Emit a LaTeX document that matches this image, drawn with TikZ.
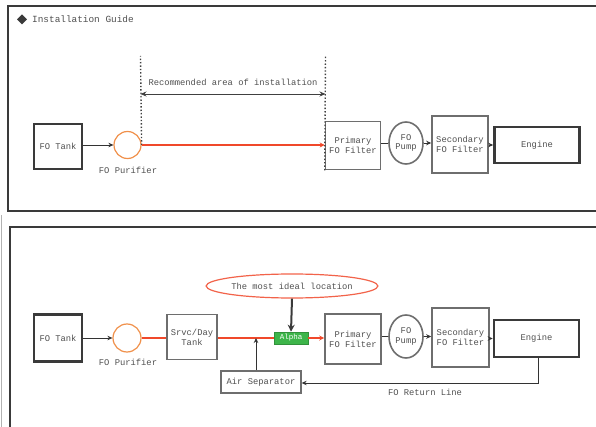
\documentclass[tikz,border=0pt]{standalone}
\usepackage{fontspec}
\setmainfont{Liberation Mono}
\usetikzlibrary{arrows.meta,shapes.geometric}
\definecolor{frame}{HTML}{3A3A3A}
\definecolor{txt}{HTML}{505050}
\definecolor{boxc}{HTML}{6E6E6E}
\definecolor{orng}{HTML}{F0904A}
\definecolor{redl}{HTML}{F0482A}
\definecolor{grn}{HTML}{3DB54A}
\begin{document}
\begin{tikzpicture}[x=1pt,y=-1pt,
  font=\fontsize{8.8}{9.8}\selectfont, text=txt,
  blk/.style={draw=boxc, line width=1.6pt, fill=white, align=center, inner sep=0pt},
  heavy/.style={blk, draw=frame, line width=2.6pt},
  purif/.style={circle, draw=orng, line width=1.2pt, minimum size=27pt, inner sep=0pt},
  pumpe/.style={ellipse, draw=boxc, line width=1.6pt, minimum width=34pt, minimum height=42pt, inner sep=0pt, align=center},
  panel/.style={draw=frame, line width=2.8pt},
  flow/.style={draw=black!80, line width=0.9pt, -{Stealth[length=5pt,width=4.5pt]}},
  plain/.style={draw=black!80, line width=0.9pt},
  redflow/.style={draw=redl, line width=2pt},
  dots/.style={draw=black!75, line width=1.4pt, dotted},
  lbl/.style={inner sep=1pt}
]
\useasboundingbox (0,0) rectangle (596,427);
% panels
\draw[panel] (604,6) -- (8,6) -- (8,211) -- (604,211);
\draw[panel] (604,227) -- (10,227) -- (10,430);
\draw[black!30, line width=0.6pt] (1.5,215) -- (1.5,427);
% title
\fill[frame] (22,14.5) -- (27,19.5) -- (22,24.5) -- (17,19.5) -- cycle;
\node[lbl, anchor=west, font=\fontsize{9.4}{10}\selectfont] (title) at (31,19.5) {Installation Guide};

% ---------------- top panel ----------------
\node[heavy, minimum width=48pt, minimum height=45pt] (tank1) at (58,146.5) {FO Tank};
\node[purif] (pur1) at (127.5,145) {};
\node[lbl] (purl1) at (128,170) {FO Purifier};
\node[blk, minimum width=55pt, minimum height=48pt] (pri1) at (353,145.5) {Primary\\FO Filter};
\node[pumpe] (pump1) at (406,143) {FO\\Pump};
\node[blk, minimum width=56pt, minimum height=57pt] (sec1) at (460,144.5) {Secondary\\FO Filter};
\node[heavy, minimum width=85pt, minimum height=36pt] (eng1) at (537,145) {Engine};

\coordinate (dl) at (140.5,56);
\coordinate (dr) at (325.5,56);
\draw[dots] (pur1.east) -- (dl);
\draw[dots] (pri1.south west) -- (dr);
\coordinate (al) at (140.5,94);
\coordinate (ar) at (325.5,94);
\draw[black!75, line width=0.9pt, {Stealth[length=6pt,width=5pt]}-{Stealth[length=6pt,width=5pt]}] (al) -- (ar);
\node[lbl] (rec) at (233,82) {Recommended area of installation};

\draw[flow] (tank1.east |- pur1.west) -- (pur1.west);
\draw[redflow, -{Stealth[length=5pt,width=5pt]}] (pur1.east) -- (pri1.west |- pur1.east);
\draw[plain] (pri1.east |- pump1.west) -- (pump1.west);
\draw[flow] (pump1.east) -- (sec1.west |- pump1.east);
\draw[flow] (sec1.east |- eng1.west) -- (eng1.west);

% ---------------- bottom panel ----------------
\node[heavy, minimum width=48pt, minimum height=47pt] (tank2) at (58,338) {FO Tank};
\node[purif, minimum size=28pt] (pur2) at (127,338) {};
\node[lbl] (purl2) at (128,362) {FO Purifier};
\node[blk, minimum width=50pt, minimum height=45pt] (day) at (192,337) {Srvc/Day\\Tank};
\node[draw=grn!80!black, fill=grn, text=white, line width=0.6pt, minimum width=34pt, minimum height=12pt, inner sep=0pt, font=\fontsize{7.5}{8}\selectfont] (alpha) at (291,338) {Alpha};
\node[blk, minimum width=56pt, minimum height=50pt] (pri2) at (353,339) {Primary\\FO Filter};
\node[pumpe, minimum height=43pt] (pump2) at (406,336.5) {FO\\Pump};
\node[blk, minimum width=57pt, minimum height=59pt] (sec2) at (460.5,337.5) {Secondary\\FO Filter};
\node[heavy, minimum width=85pt, minimum height=37pt] (eng2) at (536.5,338.5) {Engine};
\node[ellipse, draw=redl!85, line width=1.2pt, minimum width=130pt, minimum height=24pt, inner sep=0pt] (ideal) at (292,286) {The most ideal location};
\node[blk, line width=1.3pt, minimum width=80pt, minimum height=22pt] (air) at (261,382) {Air Separator};

\draw[flow] (tank2.east |- pur2.west) -- (pur2.west);
\draw[redflow] (pur2.east) -- (day.west |- pur2.east);
\draw[redflow] (day.east |- alpha.west) -- (alpha.west);
\draw[redflow, -{Stealth[length=5pt,width=5pt]}] (alpha.east) -- (pri2.west |- alpha.east);
\draw[plain] (pri2.east |- pump2.west) -- (pump2.west);
\draw[flow] (pump2.east) -- (sec2.west |- pump2.east);
\draw[flow] (sec2.east |- eng2.west) -- (eng2.west);
\draw[draw=frame, line width=2pt, -{Stealth[length=7pt,width=7pt]}] (ideal.south) -- (alpha.north);
\coordinate (ajoin) at (256,338);
\draw[flow] (air.north -| ajoin) -- (ajoin);
\coordinate (rt) at (538,383);
\draw[flow] (eng2.south -| rt) -- (rt) -- (air.east |- rt);
\node[lbl] (retl) at (425,392) {FO Return Line};
\end{tikzpicture}
\end{document}
